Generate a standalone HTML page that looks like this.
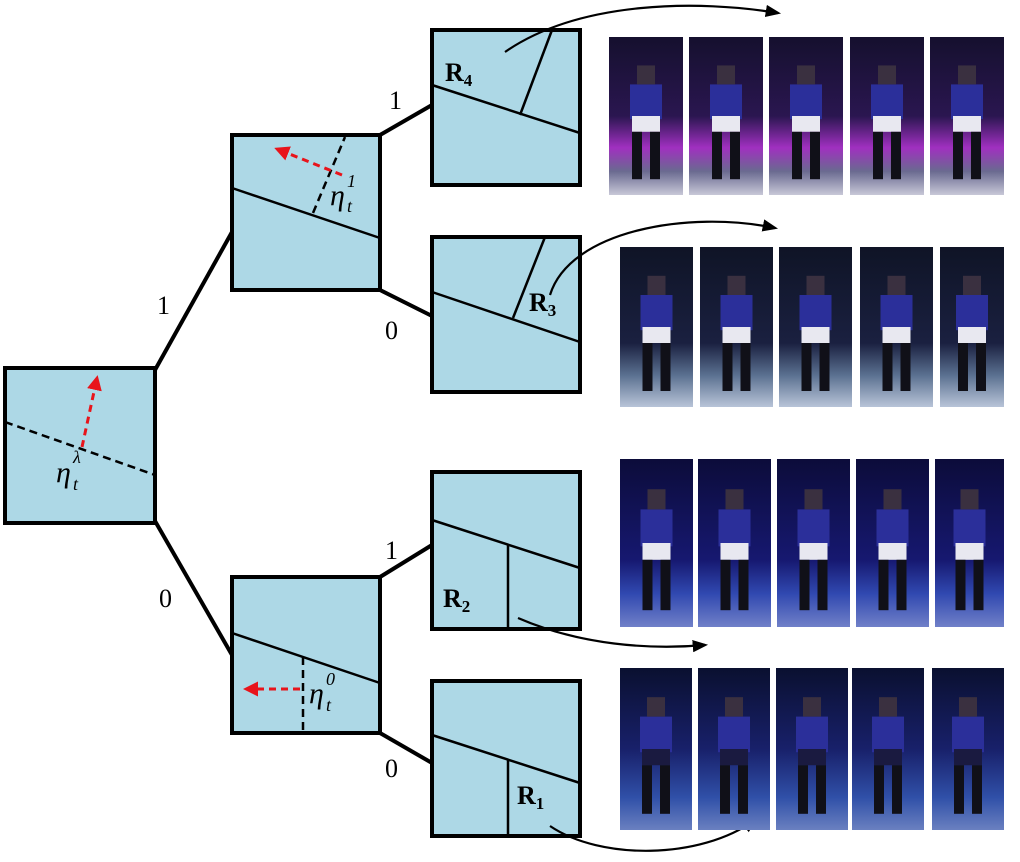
<!DOCTYPE html>
<html><head><meta charset="utf-8"><style>
html,body{margin:0;padding:0;background:#fff;}
svg{display:block;}
text{font-family:"Liberation Serif",serif;fill:#000;}
</style></head><body>
<svg width="1020" height="862" viewBox="0 0 1020 862" xmlns="http://www.w3.org/2000/svg">
<defs>
<marker id="ah" viewBox="0 0 10 10" refX="8" refY="5" markerWidth="7" markerHeight="7" orient="auto"><path d="M0,1 L10,5 L0,9 z" fill="#000"/></marker>
<marker id="rh" viewBox="0 0 10 10" refX="8" refY="5" markerWidth="5" markerHeight="5" orient="auto"><path d="M0,0 L10,5 L0,10 z" fill="#e8141b"/></marker>
<linearGradient id="g1" x1="0" y1="0" x2="0" y2="1"><stop offset="0" stop-color="#15102e"/><stop offset="0.5" stop-color="#2a1650"/><stop offset="0.7" stop-color="#a030c0"/><stop offset="0.85" stop-color="#6a6a90"/><stop offset="1" stop-color="#c8c8d8"/></linearGradient>
<linearGradient id="g2" x1="0" y1="0" x2="0" y2="1"><stop offset="0" stop-color="#0f1426"/><stop offset="0.6" stop-color="#1a2040"/><stop offset="0.8" stop-color="#5a7090"/><stop offset="1" stop-color="#b8c4d8"/></linearGradient>
<linearGradient id="g3" x1="0" y1="0" x2="0" y2="1"><stop offset="0" stop-color="#0c0c3a"/><stop offset="0.6" stop-color="#161870"/><stop offset="0.8" stop-color="#3048b0"/><stop offset="1" stop-color="#7080c8"/></linearGradient>
<linearGradient id="g4" x1="0" y1="0" x2="0" y2="1"><stop offset="0" stop-color="#0a1030"/><stop offset="0.5" stop-color="#18206a"/><stop offset="0.8" stop-color="#3050a8"/><stop offset="1" stop-color="#6a80c0"/></linearGradient>
</defs>

<g stroke="#000" stroke-width="4" fill="none">
<line x1="155" y1="370" x2="232" y2="232"/>
<line x1="155" y1="521" x2="232" y2="655"/>
<line x1="380" y1="135" x2="432" y2="105"/>
<line x1="380" y1="290" x2="432" y2="316"/>
<line x1="380" y1="577" x2="432" y2="545"/>
<line x1="380" y1="733" x2="432" y2="763"/>
</g>
<g font-size="26">
<text x="157" y="314">1</text><text x="159" y="607">0</text>
<text x="389" y="109">1</text><text x="385" y="339">0</text>
<text x="385" y="559">1</text><text x="385" y="777">0</text>
</g>

<g>
<rect x="5" y="368" width="150" height="155" fill="#add8e6" stroke="#000" stroke-width="4"/>
<line x1="5" y1="422" x2="155" y2="475" stroke="#000" stroke-width="2.5" stroke-dasharray="8,5"/>
<line x1="82" y1="447" x2="97" y2="378" stroke="#e8141b" stroke-width="3" stroke-dasharray="7,5" marker-end="url(#rh)"/>
<text x="56" y="482" font-size="30" font-style="italic">η</text><text x="73" y="463" font-size="18" font-style="italic">λ</text><text x="73" y="490" font-size="18" font-style="italic">t</text>
</g>

<g>
<rect x="232" y="135" width="148" height="155" fill="#add8e6" stroke="#000" stroke-width="4"/>
<line x1="232" y1="188" x2="380" y2="238" stroke="#000" stroke-width="2.5"/>
<line x1="313" y1="213" x2="345" y2="137" stroke="#000" stroke-width="2.5" stroke-dasharray="8,5"/>
<line x1="342" y1="175" x2="277" y2="149" stroke="#e8141b" stroke-width="3" stroke-dasharray="7,5" marker-end="url(#rh)"/>
<text x="330" y="205" font-size="30" font-style="italic">η</text><text x="347" y="187" font-size="18" font-style="italic">1</text><text x="347" y="212" font-size="18" font-style="italic">t</text>
</g>

<g>
<rect x="232" y="577" width="148" height="156" fill="#add8e6" stroke="#000" stroke-width="4"/>
<line x1="232" y1="633" x2="380" y2="683" stroke="#000" stroke-width="2.5"/>
<line x1="303" y1="657" x2="303" y2="733" stroke="#000" stroke-width="2.5" stroke-dasharray="8,5"/>
<line x1="300" y1="689" x2="246" y2="689" stroke="#e8141b" stroke-width="3" stroke-dasharray="7,5" marker-end="url(#rh)"/>
<text x="309" y="703" font-size="30" font-style="italic">η</text><text x="326" y="685" font-size="18" font-style="italic">0</text><text x="326" y="711" font-size="18" font-style="italic">t</text>
</g>

<g>
<rect x="432" y="30" width="148" height="155" fill="#add8e6" stroke="#000" stroke-width="4"/>
<line x1="432" y1="85" x2="580" y2="133" stroke="#000" stroke-width="2.5"/>
<line x1="520" y1="115" x2="552" y2="30" stroke="#000" stroke-width="2.5"/>
<text x="445" y="81" font-size="26" font-weight="bold">R<tspan font-size="17" dy="5">4</tspan></text>
</g>
<g>
<rect x="432" y="237" width="148" height="155" fill="#add8e6" stroke="#000" stroke-width="4"/>
<line x1="432" y1="292" x2="580" y2="342" stroke="#000" stroke-width="2.5"/>
<line x1="513" y1="318" x2="545" y2="237" stroke="#000" stroke-width="2.5"/>
<text x="529" y="311" font-size="26" font-weight="bold">R<tspan font-size="17" dy="5">3</tspan></text>
</g>
<g>
<rect x="432" y="472" width="148" height="157" fill="#add8e6" stroke="#000" stroke-width="4"/>
<line x1="432" y1="520" x2="580" y2="568" stroke="#000" stroke-width="2.5"/>
<line x1="508" y1="545" x2="508" y2="629" stroke="#000" stroke-width="2.5"/>
<text x="443" y="607" font-size="26" font-weight="bold">R<tspan font-size="17" dy="5">2</tspan></text>
</g>
<g>
<rect x="432" y="681" width="148" height="155" fill="#add8e6" stroke="#000" stroke-width="4"/>
<line x1="432" y1="735" x2="580" y2="783" stroke="#000" stroke-width="2.5"/>
<line x1="508" y1="760" x2="508" y2="836" stroke="#000" stroke-width="2.5"/>
<text x="517" y="804" font-size="26" font-weight="bold">R<tspan font-size="17" dy="5">1</tspan></text>
</g>

<g stroke="#000" stroke-width="2.2" fill="none">
<path d="M505,52 C580,0 700,0 778,13" marker-end="url(#ah)"/>
<path d="M550,295 C570,230 690,210 775,228" marker-end="url(#ah)"/>
<path d="M518,618 C580,645 650,650 705,645" marker-end="url(#ah)"/>
<path d="M550,826 C600,860 700,860 755,820" marker-end="url(#ah)"/>
</g>

<g id="frames"></g>
</svg>
<script>
const rows = [
  {y:37,h:158,g:'g1',xs:[609,689,769,850,930],w:74},
  {y:247,h:160,g:'g2',xs:[620,700,779,860,940],w:73},
  {y:459,h:168,g:'g3',xs:[620,698,777,856,935],w:73},
  {y:668,h:162,g:'g4',xs:[620,698,776,852,932],w:72}
];
const NS='http://www.w3.org/2000/svg';
const host=document.getElementById('frames');
rows.forEach((r,ri)=>{
  r.xs.forEach((x,fi)=>{
    const w=Math.min(r.w,1004-x);
    const g=document.createElementNS(NS,'g');
    
    
    const rc=document.createElementNS(NS,'rect');
    rc.setAttribute('x',x);rc.setAttribute('y',r.y);rc.setAttribute('width',w);rc.setAttribute('height',r.h);
    rc.setAttribute('fill','url(#'+r.g+')');
    g.appendChild(rc);
    const cx=x+w/2;
    const parts=[
      [cx-16,r.y+r.h*0.3,32,r.h*0.22,'#2b2f9a'],
      [cx-14,r.y+r.h*0.5,28,r.h*0.1,ri===3?'#1a1a40':'#e8e8f0'],
      [cx-14,r.y+r.h*0.6,10,r.h*0.3,'#101018'],
      [cx+4,r.y+r.h*0.6,10,r.h*0.3,'#101018'],
      [cx-9,r.y+r.h*0.18,18,r.h*0.12,'#3a3040']
    ];
    parts.forEach(p=>{
      const e=document.createElementNS(NS,'rect');
      e.setAttribute('x',p[0]);e.setAttribute('y',p[1]);e.setAttribute('width',p[2]);e.setAttribute('height',p[3]);
      e.setAttribute('fill',p[4]);
      g.appendChild(e);
    });
    host.appendChild(g);
  });
});
</script>
</body></html>
